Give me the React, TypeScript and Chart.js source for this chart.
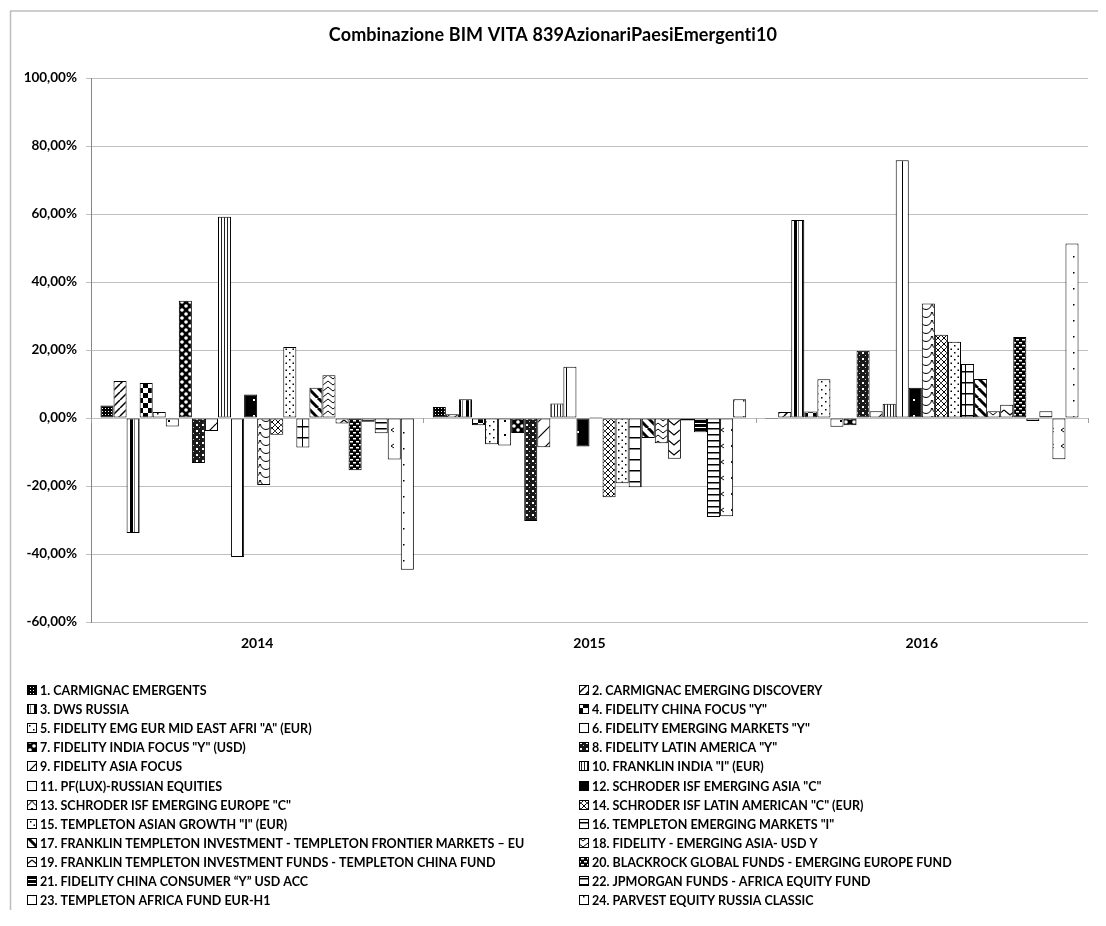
import React, { useEffect, useRef } from 'react';
import { Chart, registerables } from 'chart.js';

Chart.register(...registerables);

const titleText = 'Combinazione BIM VITA 839AzionariPaesiEmergenti10';
const categories = ['2014', '2015', '2016'];

const seriesNames = [
  '1. CARMIGNAC EMERGENTS',
  '2. CARMIGNAC EMERGING DISCOVERY',
  '3. DWS RUSSIA',
  '4. FIDELITY CHINA FOCUS "Y"',
  '5. FIDELITY EMG EUR MID EAST AFRI "A" (EUR)',
  '6. FIDELITY EMERGING MARKETS "Y"',
  '7. FIDELITY INDIA FOCUS "Y" (USD)',
  '8. FIDELITY LATIN AMERICA "Y"',
  '9. FIDELITY ASIA FOCUS',
  '10. FRANKLIN INDIA "I" (EUR)',
  '11. PF(LUX)-RUSSIAN EQUITIES',
  '12. SCHRODER ISF EMERGING ASIA "C"',
  '13. SCHRODER ISF EMERGING EUROPE "C"',
  '14. SCHRODER ISF LATIN AMERICAN "C" (EUR)',
  '15. TEMPLETON ASIAN GROWTH "I" (EUR)',
  '16. TEMPLETON EMERGING MARKETS "I"',
  '17. FRANKLIN TEMPLETON INVESTMENT - TEMPLETON FRONTIER MARKETS \u2013 EU',
  '18. FIDELITY - EMERGING ASIA- USD Y',
  '19. FRANKLIN TEMPLETON INVESTMENT FUNDS - TEMPLETON CHINA FUND',
  '20. BLACKROCK GLOBAL FUNDS - EMERGING EUROPE FUND',
  '21. FIDELITY CHINA CONSUMER \u201CY\u201D USD ACC',
  '22. JPMORGAN FUNDS - AFRICA EQUITY FUND',
  '23. TEMPLETON AFRICA FUND EUR-H1',
  '24. PARVEST EQUITY RUSSIA CLASSIC',
];

// values in percent, per year 2014, 2015, 2016
const carmignacEmergents = [3.7, 3.2, -0.3];
const carmignacEmergingDiscovery = [10.9, 1.1, 1.8];
const dwsRussia = [-33.8, 5.5, 58.2];
const fidelityChinaFocus = [10.3, -2.1, 1.9];
const fidelityEmgEurMidEastAfri = [1.8, -7.7, 11.4];
const fidelityEmergingMarkets = [-2.5, -8.1, -2.6];
const fidelityIndiaFocus = [34.5, -4.4, -2.1];
const fidelityLatinAmerica = [-13.2, -30.3, 19.8];
const fidelityAsiaFocus = [-3.8, -8.6, 2.0];
const franklinIndia = [59.2, 4.3, 4.2];
const pfLuxRussianEquities = [-40.9, 15.1, 75.8];
const schroderEmergingAsia = [6.9, -8.4, 8.9];
const schroderEmergingEurope = [-19.7, 0.3, 33.7];
const schroderLatinAmerican = [-4.9, -23.3, 24.5];
const templetonAsianGrowth = [20.9, -19.2, 22.4];
const templetonEmergingMarkets = [-8.7, -20.4, 15.9];
const templetonFrontierMarkets = [8.9, -5.9, 11.5];
const fidelityEmergingAsia = [12.6, -7.4, 2.0];
const templetonChinaFund = [-1.6, -12.0, 3.9];
const blackrockEmergingEurope = [-15.4, -0.7, 23.8];
const fidelityChinaConsumer = [-1.1, -4.2, -0.9];
const jpmorganAfricaEquity = [-4.5, -29.1, 2.0];
const templetonAfricaFund = [-12.2, -28.9, -12.1];
const parvestEquityRussia = [-44.6, 5.5, 51.3];

const seriesValues = [
  carmignacEmergents, carmignacEmergingDiscovery, dwsRussia, fidelityChinaFocus,
  fidelityEmgEurMidEastAfri, fidelityEmergingMarkets, fidelityIndiaFocus, fidelityLatinAmerica,
  fidelityAsiaFocus, franklinIndia, pfLuxRussianEquities, schroderEmergingAsia,
  schroderEmergingEurope, schroderLatinAmerican, templetonAsianGrowth, templetonEmergingMarkets,
  templetonFrontierMarkets, fidelityEmergingAsia, templetonChinaFund, blackrockEmergingEurope,
  fidelityChinaConsumer, jpmorganAfricaEquity, templetonAfricaFund, parvestEquityRussia,
];

const yMin = -60;
const yMax = 100;
const yStep = 20;

const FONT = 'Lato, "Open Sans", sans-serif';

type Ctx = CanvasRenderingContext2D;

function ln(ctx: Ctx, x1: number, y1: number, x2: number, y2: number, lw = 1, col = '#000') {
  ctx.strokeStyle = col;
  ctx.lineWidth = lw;
  ctx.beginPath();
  ctx.moveTo(x1, y1);
  ctx.lineTo(x2, y2);
  ctx.stroke();
}
function rect(ctx: Ctx, x: number, y: number, w: number, h: number, col = '#000') {
  ctx.fillStyle = col;
  ctx.fillRect(x, y, w, h);
}
function slash(ctx: Ctx, s: number, lw: number) {
  for (let k = -1; k <= 1; k++) ln(ctx, k * s, s, k * s + s, 0, lw);
}
function backslash(ctx: Ctx, s: number, lw: number) {
  for (let k = -1; k <= 1; k++) ln(ctx, k * s, 0, k * s + s, s, lw);
}

const patternDefs: [number, number, (c: Ctx, w: number, h: number) => void][] = [
  [3, 3, (c) => { rect(c, 0, 0, 3, 3); rect(c, 1, 1, 1, 1, '#fff'); }],
  [8, 8, (c) => slash(c, 8, 1.5)],
  [8, 1, (c) => { rect(c, 2, 0, 3, 1); rect(c, 6, 0, 1, 1, '#777'); }],
  [10, 10, (c) => { rect(c, 0, 0, 5, 5); rect(c, 5, 5, 5, 5); }],
  [8, 8, (c) => { rect(c, 1, 1, 1.5, 1.5); rect(c, 5, 5, 1.5, 1.5); }],
  [14, 14, (c) => { rect(c, 6, 6, 2, 2); }],
  [8, 8, (c) => {
    rect(c, 0, 0, 8, 8);
    c.fillStyle = '#fff';
    c.beginPath(); c.arc(2, 2, 1.8, 0, Math.PI * 2); c.fill();
    c.beginPath(); c.arc(6, 6, 1.8, 0, Math.PI * 2); c.fill();
  }],
  [6, 6, (c) => { rect(c, 0, 0, 6, 6, '#1a1a1a'); rect(c, 2, 2, 2, 2, '#fff'); rect(c, 5, 5, 1, 1, '#ccc'); }],
  [16, 16, (c) => slash(c, 16, 1.2)],
  [3, 1, (c) => { rect(c, 0, 0, 1, 1, '#222'); }],
  [12, 1, (c) => { rect(c, 6, 0, 1, 1); }],
  [12, 16, (c) => { rect(c, 0, 0, 12, 16); rect(c, 5, 7, 2, 2, '#fff'); }],
  [12, 8, (c) => {
    c.strokeStyle = '#000'; c.lineWidth = 1;
    c.beginPath(); c.arc(6, 0, 5.5, 0, Math.PI); c.stroke();
  }],
  [6, 6, (c) => { slash(c, 6, 1); backslash(c, 6, 1); rect(c, 2.5, 2.5, 1, 1, '#fff'); }],
  [7, 7, (c) => { rect(c, 1, 1, 1.5, 1.5); rect(c, 4.5, 4.5, 1.5, 1.5); }],
  [13, 11, (c) => { ln(c, 0, 0.75, 13, 0.75, 1.5); ln(c, 8.5, 0, 8.5, 11, 1); }],
  [10, 10, (c) => backslash(c, 10, 3)],
  [10, 6, (c) => {
    c.strokeStyle = '#000'; c.lineWidth = 1;
    c.beginPath(); c.moveTo(0, 1); c.lineTo(5, 5); c.lineTo(10, 1); c.stroke();
  }],
  [12, 10, (c) => {
    c.strokeStyle = '#000'; c.lineWidth = 1.2;
    c.beginPath(); c.moveTo(0, 2); c.lineTo(6, 7); c.lineTo(12, 2); c.stroke();
  }],
  [6, 6, (c) => { rect(c, 0, 0, 6, 6); rect(c, 0, 1, 3, 1.5, '#fff'); rect(c, 3, 4, 3, 1.5, '#fff'); }],
  [1, 4, (c) => { rect(c, 0, 0, 1, 3); }],
  [1, 6, (c) => { rect(c, 0, 0, 1, 1.5); }],
  [10, 16, (c) => {
    c.strokeStyle = '#000'; c.lineWidth = 1;
    c.beginPath(); c.moveTo(6, 4); c.lineTo(3, 6); c.lineTo(6, 8); c.stroke();
  }],
  [10, 16, (c) => { rect(c, 5, 8, 1.5, 1.5); }],
];

function makePattern(w: number, h: number, draw: (c: Ctx, w: number, h: number) => void): CanvasPattern | string {
  const cv = document.createElement('canvas');
  cv.width = w;
  cv.height = h;
  const c = cv.getContext('2d');
  if (!c) return '#888';
  c.fillStyle = '#fff';
  c.fillRect(0, 0, w, h);
  draw(c, w, h);
  const p = c.createPattern(cv, 'repeat');
  return p || '#888';
}

function fmtPct(v: number): string {
  return v.toFixed(2).replace('.', ',') + '%';
}

const CANVAS_W = 1090;
const CANVAS_H = 902;

export default function App() {
  const ref = useRef<HTMLCanvasElement | null>(null);

  useEffect(() => {
    if (!ref.current) return;
    const patterns = patternDefs.map(([w, h, d]) => makePattern(w, h, d));

    const decor = {
      id: 'decor',
      beforeDraw(chart: any) {
        const ctx: any = chart.ctx;
        ctx.save();
        ctx.fillStyle = '#fff';
        ctx.fillRect(0, 0, chart.width, chart.height);
        ln(ctx, 2, 3, chart.width, 3, 1.5, '#bdbdbd');
        ln(ctx, 2.5, 3, 2.5, chart.height, 1.5, '#bdbdbd');
        ctx.fillStyle = '#000';
        ctx.font = `bold 18px ${FONT}`;
        ctx.letterSpacing = '0.1px';
        ctx.textAlign = 'center';
        ctx.textBaseline = 'middle';
        ctx.fillText(titleText, chart.width / 2, 27);
        ctx.letterSpacing = '0px';
        ctx.restore();
      },
      afterDatasetsDraw(chart: any) {
        const ctx: Ctx = chart.ctx;
        const ca = chart.chartArea;
        const y0 = chart.scales.y.getPixelForValue(0);
        ctx.save();
        const n = categories.length;
        for (let i = 0; i <= n; i++) {
          const x = Math.round(ca.left + (i * (ca.right - ca.left)) / n) + 0.5;
          ln(ctx, x, y0, x, y0 + 5, 1, '#a0a0a0');
        }
        ctx.restore();
      },
      afterDraw(chart: any) {
        const ctx: Ctx = chart.ctx;
        ctx.save();
        ctx.font = `bold 12.5px ${FONT}`;
        ctx.textBaseline = 'middle';
        ctx.textAlign = 'left';
        seriesNames.forEach((name, i) => {
          const row = Math.floor(i / 2);
          const col = i % 2;
          const y = 682 + row * 19.1;
          const mx = 19 + col * 552;
          ctx.fillStyle = patterns[i] as any;
          ctx.fillRect(mx, Math.round(y - 5), 10, 10);
          ctx.strokeStyle = '#000';
          ctx.lineWidth = 1;
          ctx.strokeRect(mx + 0.5, Math.round(y - 5) + 0.5, 9, 9);
          ctx.fillStyle = '#000';
          ctx.fillText(name, mx + 13, y + 1);
        });
        ctx.restore();
      },
    };

    const chart = new Chart(ref.current, {
      type: 'bar',
      data: {
        labels: categories,
        datasets: seriesNames.map((name, i) => ({
          label: name,
          data: seriesValues[i],
          backgroundColor: patterns[i] as any,
          borderColor: '#000',
          borderWidth: 1,
          borderSkipped: false,
          categoryPercentage: 0.943,
          barPercentage: 1.0,
        })),
      },
      options: {
        responsive: false,
        animation: false,
        devicePixelRatio: 1,
        layout: { padding: { top: 70, left: 0, right: 10, bottom: CANVAS_H - 614 - 40 } },
        plugins: {
          legend: { display: false },
          title: { display: false },
          tooltip: { enabled: false },
        },
        scales: {
          x: {
            grid: { display: false, drawTicks: false },
            border: { display: false },
            ticks: {
              color: '#000',
              font: { family: FONT, size: 14, weight: 'bold' },
              padding: 13,
              maxRotation: 0,
            },
            afterFit: (s: any) => { s.height = 40; },
          },
          y: {
            min: yMin,
            max: yMax,
            grid: { color: '#bfbfbf', lineWidth: 1, tickLength: 5, drawTicks: true },
            border: { display: true, color: '#868686', width: 1 },
            ticks: {
              stepSize: yStep,
              color: '#000',
              padding: 9,
              font: { family: FONT, size: 13.5, weight: 'bold' },
              callback: (v: any) => fmtPct(Number(v)),
            },
            afterFit: (s: any) => { s.width = 83; },
          },
        },
      },
      plugins: [decor],
    } as any);

    return () => chart.destroy();
  }, []);

  return (
    <div style={{ width: CANVAS_W, height: CANVAS_H }}>
      <canvas ref={ref} width={CANVAS_W} height={CANVAS_H} style={{ display: 'block' }} />
    </div>
  );
}
